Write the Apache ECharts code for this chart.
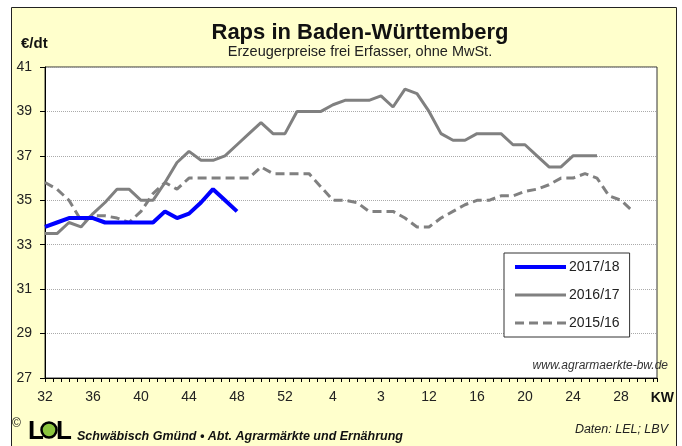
<!DOCTYPE html>
<html>
<head>
<meta charset="utf-8">
<title>Raps in Baden-Württemberg</title>
<script src="https://cdn.jsdelivr.net/npm/echarts@6.0.0/dist/echarts.min.js"></script>
<style>
  html, body { margin: 0; padding: 0; background: #fff; }
  #chart { width: 682px; height: 446px; }
</style>
</head>
<body>
<div id="chart"></div>
<script>
// Kalenderwochen-Beschriftung (alle 4 Wochen, ab KW 32)
var kwLabels = ['32', '36', '40', '44', '48', '52', '4', '3', '12', '16', '20', '24', '28'];

// Erzeugerpreise Raps in EUR/dt, je Woche ab KW 32
var preis1718 = [33.8, 34.0, 34.2, 34.2, 34.2, 34.0, 34.0, 34.0, 34.0, 34.0,
                 34.5, 34.2, 34.4, 34.9, 35.5, 35.0, 34.5];
var preis1617 = [33.5, 33.5, 34.0, 33.8, 34.4, 34.9, 35.5, 35.5, 35.0, 35.0,
                 35.8, 36.7, 37.2, 36.8, 36.8, 37.0, 37.5, 38.0, 38.5, 38.0,
                 38.0, 39.0, 39.0, 39.0, 39.3, 39.5, 39.5, 39.5, 39.7, 39.2,
                 40.0, 39.8, 39.0, 38.0, 37.7, 37.7, 38.0, 38.0, 38.0, 37.5,
                 37.5, 37.0, 36.5, 36.5, 37.0, 37.0, 37.0];
var preis1516 = [35.8, 35.5, 35.0, 34.1, 34.3, 34.3, 34.2, 34.0, 34.5, 35.3,
                 35.8, 35.5, 36.0, 36.0, 36.0, 36.0, 36.0, 36.0, 36.5, 36.2,
                 36.2, 36.2, 36.2, 35.6, 35.0, 35.0, 34.9, 34.5, 34.5, 34.5,
                 34.2, 33.8, 33.8, 34.2, 34.5, 34.8, 35.0, 35.0, 35.2, 35.2,
                 35.4, 35.5, 35.7, 36.0, 36.0, 36.2, 36.0, 35.2, 35.0, 34.5];

var font = 'Arial, "Liberation Sans", sans-serif';

// Werte mit Wochenindex verbinden
function toPairs(arr) {
  return arr.map(function (v, i) { return [i, v]; });
}

var chart = echarts.init(document.getElementById('chart'));

var option = {
  backgroundColor: '#fff',
  animation: false,
  textStyle: { fontFamily: font },
  grid: {
    left: 45, right: 25, top: 67, bottom: 68,
    show: true,
    backgroundColor: '#fff',
    borderColor: '#333',
    borderWidth: 1
  },
  xAxis: {
    type: 'value',
    min: 0,
    max: 51,
    interval: 4,
    axisLine: { lineStyle: { color: '#000', width: 1 } },
    axisTick: { length: 4, lineStyle: { color: '#000' } },
    minorTick: { show: true, splitNumber: 6, length: 4, lineStyle: { color: '#000' } },
    splitLine: { show: false },
    axisLabel: {
      margin: 12,
      fontSize: 14,
      color: '#222',
      fontFamily: font,
      formatter: function (v) {
        var k = Math.round(v / 4);
        return (v % 4 === 0 && kwLabels[k]) ? kwLabels[k] : '';
      }
    }
  },
  yAxis: {
    type: 'value',
    min: 27,
    max: 41,
    interval: 2,
    axisLine: { show: true, lineStyle: { color: '#000', width: 1 } },
    axisTick: { show: true, length: 5, lineStyle: { color: '#000' } },
    splitLine: { lineStyle: { color: '#aaa', type: 'dotted', width: 1 } },
    axisLabel: { margin: 13, fontSize: 14, color: '#222', fontFamily: font }
  },
  legend: {
    orient: 'vertical',
    left: 504,
    top: 253,
    padding: [7, 10, 7, 9],
    itemWidth: 51,
    itemHeight: 14,
    itemGap: 14,
    backgroundColor: '#fff',
    borderColor: '#333',
    borderWidth: 1,
    borderRadius: 0,
    textStyle: { fontSize: 14, color: '#222', fontFamily: font, padding: [0, 0, 0, -2] },
    data: [
      { name: '2017/18', itemStyle: { opacity: 0 }, lineStyle: { width: 4 } },
      { name: '2016/17', itemStyle: { opacity: 0 }, lineStyle: { width: 3 } },
      { name: '2015/16', itemStyle: { opacity: 0 }, lineStyle: { width: 3 } }
    ]
  },
  series: [
    {
      name: '2017/18',
      type: 'line',
      z: 4,
      symbol: 'none',
      color: '#0000ff',
      lineStyle: { color: '#0000ff', width: 4 },
      data: toPairs(preis1718)
    },
    {
      name: '2016/17',
      type: 'line',
      z: 3,
      symbol: 'none',
      color: '#808080',
      lineStyle: { color: '#808080', width: 3 },
      data: toPairs(preis1617)
    },
    {
      name: '2015/16',
      type: 'line',
      z: 2,
      symbol: 'none',
      color: '#808080',
      lineStyle: { color: '#808080', width: 3, type: [9, 5] },
      data: toPairs(preis1516)
    }
  ],
  graphic: [
    // gelber Rahmen
    {
      type: 'rect', z: -100, silent: true,
      shape: { x: 11.5, y: 7.5, width: 665, height: 450 },
      style: { fill: '#ffffcc', stroke: '#222', lineWidth: 1 }
    },
    {
      type: 'text', x: 360, y: 33, z: 10,
      style: { text: 'Raps in Baden-Württemberg', font: 'bold 22px ' + font, fill: '#111', textAlign: 'center', verticalAlign: 'middle' }
    },
    {
      type: 'text', x: 360, y: 52, z: 10,
      style: { text: 'Erzeugerpreise frei Erfasser, ohne MwSt.', font: '14.5px ' + font, fill: '#222', textAlign: 'center', verticalAlign: 'middle' }
    },
    {
      type: 'text', x: 21, y: 44, z: 10,
      style: { text: '€/dt', font: 'bold 15px ' + font, fill: '#111', textAlign: 'left', verticalAlign: 'middle' }
    },
    {
      type: 'text', x: 674, y: 398, z: 10,
      style: { text: 'KW', font: 'bold 14px ' + font, fill: '#111', textAlign: 'right', verticalAlign: 'middle' }
    },
    {
      type: 'text', x: 668, y: 366, z: 10,
      style: { text: 'www.agrarmaerkte-bw.de', font: 'italic 12px ' + font, fill: '#333', textAlign: 'right', verticalAlign: 'middle' }
    },
    {
      type: 'text', x: 668, y: 430, z: 10,
      style: { text: 'Daten: LEL; LBV', font: 'italic 12.5px ' + font, fill: '#222', textAlign: 'right', verticalAlign: 'middle' }
    },
    // Logo LEL
    {
      type: 'text', x: 12, y: 424, z: 10,
      style: { text: '©', font: '12px ' + font, fill: '#111', textAlign: 'left', verticalAlign: 'middle' }
    },
    {
      type: 'text', x: 28, y: 432, z: 10,
      style: { text: 'L', font: 'bold 26px ' + font, fill: '#000', textAlign: 'left', verticalAlign: 'middle' }
    },
    {
      type: 'circle', z: 10,
      shape: { cx: 49, cy: 430, r: 7.5 },
      style: { fill: '#8cc63e', stroke: '#000', lineWidth: 2.5 }
    },
    {
      type: 'text', x: 56, y: 432, z: 10,
      style: { text: 'L', font: 'bold 26px ' + font, fill: '#000', textAlign: 'left', verticalAlign: 'middle' }
    },
    {
      type: 'text', x: 77, y: 437, z: 10,
      style: { text: 'Schwäbisch Gmünd • Abt. Agrarmärkte und Ernährung', font: 'italic bold 12.5px ' + font, fill: '#111', textAlign: 'left', verticalAlign: 'middle' }
    }
  ]
};

chart.setOption(option);
</script>
</body>
</html>
